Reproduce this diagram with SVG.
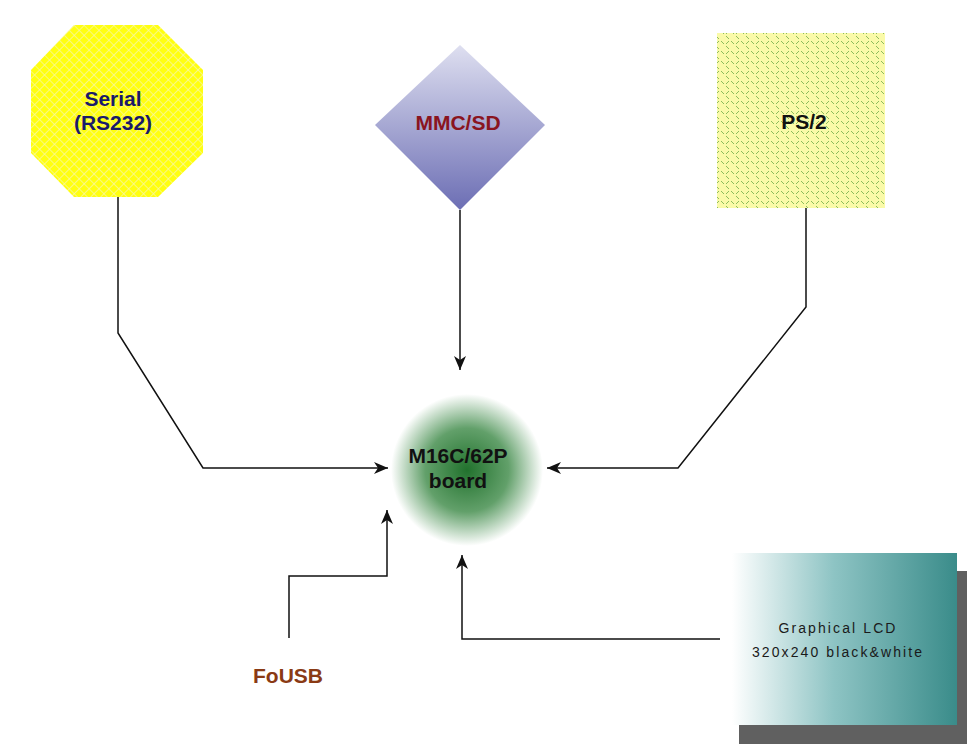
<svg xmlns="http://www.w3.org/2000/svg" width="967" height="744" viewBox="0 0 967 744">
<style>
.conn{fill:none;stroke:#111;stroke-width:1.5}
.lbl{font-family:"Liberation Sans",Arial,sans-serif;font-weight:bold;font-size:21px;text-anchor:middle}
.lcd{font-family:"Liberation Sans",Arial,sans-serif;font-size:14px;letter-spacing:2.1px;text-anchor:middle;fill:#1a1a1a}
</style>
<defs>
<marker id="arr" markerUnits="userSpaceOnUse" markerWidth="16" markerHeight="12" refX="14" refY="6" orient="auto">
<path d="M0,0 L14,6 L0,12 L4,6 z" fill="#111"/>
</marker>
<pattern id="yel" width="7" height="7" patternUnits="userSpaceOnUse" patternTransform="rotate(45)">
<rect width="7" height="7" fill="#ffff10"/>
<path d="M0,0 H7 M0,0 V7" stroke="#f8f8a0" stroke-width="1.6"/>
</pattern>
<pattern id="ps2" width="10" height="10" patternUnits="userSpaceOnUse">
<rect width="10" height="10" fill="#fafaa8"/>
<path d="M1,1 L4,4 M6,6 L9,9 M9,1 L6,4" stroke="#8cbc5c" stroke-width="1"/>
</pattern>
<linearGradient id="dia" x1="0" y1="0" x2="0" y2="1">
<stop offset="0" stop-color="#dedff0"/>
<stop offset="1" stop-color="#6c6eb4"/>
</linearGradient>
<radialGradient id="circ" cx="0.5" cy="0.5" r="0.5">
<stop offset="0" stop-color="#22722e"/>
<stop offset="0.55" stop-color="#62a06a"/>
<stop offset="1" stop-color="#ffffff"/>
</radialGradient>
<linearGradient id="lcdg" x1="0" y1="0" x2="1" y2="0">
<stop offset="0" stop-color="#ffffff"/>
<stop offset="0.45" stop-color="#8ec4c4"/>
<stop offset="1" stop-color="#3a8c8a"/>
</linearGradient>
</defs>
<rect width="967" height="744" fill="#ffffff"/>
<g id="connectors">
<path class="conn" d="M118,197 V333 L203,468 H388" marker-end="url(#arr)"/>
<path class="conn" d="M460,210 V370" marker-end="url(#arr)"/>
<path class="conn" d="M806,208 V307 L678,468 H547" marker-end="url(#arr)"/>
<path class="conn" d="M289,638 V576 H387 V510" marker-end="url(#arr)"/>
<path class="conn" d="M720,639 H462 V555" marker-end="url(#arr)"/>
</g>
<g id="serial">
<polygon points="74,25 158,25 203,70 203,153 158,197 74,197 31,153 31,70" fill="url(#yel)"/>
<text class="lbl" x="113" y="106" fill="#1a1a6a">Serial</text>
<text class="lbl" x="113" y="130" fill="#1a1a6a">(RS232)</text>
</g>
<g id="mmcsd">
<polygon points="460,45 545,125 460,210 375,125" fill="url(#dia)"/>
<text class="lbl" x="458" y="130" fill="#8a1420">MMC/SD</text>
</g>
<g id="ps2">
<rect x="717" y="33" width="168" height="175" fill="url(#ps2)"/>
<text class="lbl" x="804" y="129" fill="#111">PS/2</text>
</g>
<g id="board">
<circle cx="467" cy="470" r="76" fill="url(#circ)"/>
<text class="lbl" x="458" y="463" fill="#111">M16C/62P</text>
<text class="lbl" x="458" y="488" fill="#111">board</text>
</g>
<g id="fousb">
<text class="lbl" x="288" y="683" fill="#8a3a14">FoUSB</text>
</g>
<g id="lcd">
<rect x="739" y="571" width="228" height="173" fill="#606060"/>
<rect x="732" y="553" width="225" height="172" fill="url(#lcdg)"/>
<text class="lcd" x="838" y="633">Graphical LCD</text>
<text class="lcd" x="838" y="657">320x240 black&amp;white</text>
</g>
</svg>
